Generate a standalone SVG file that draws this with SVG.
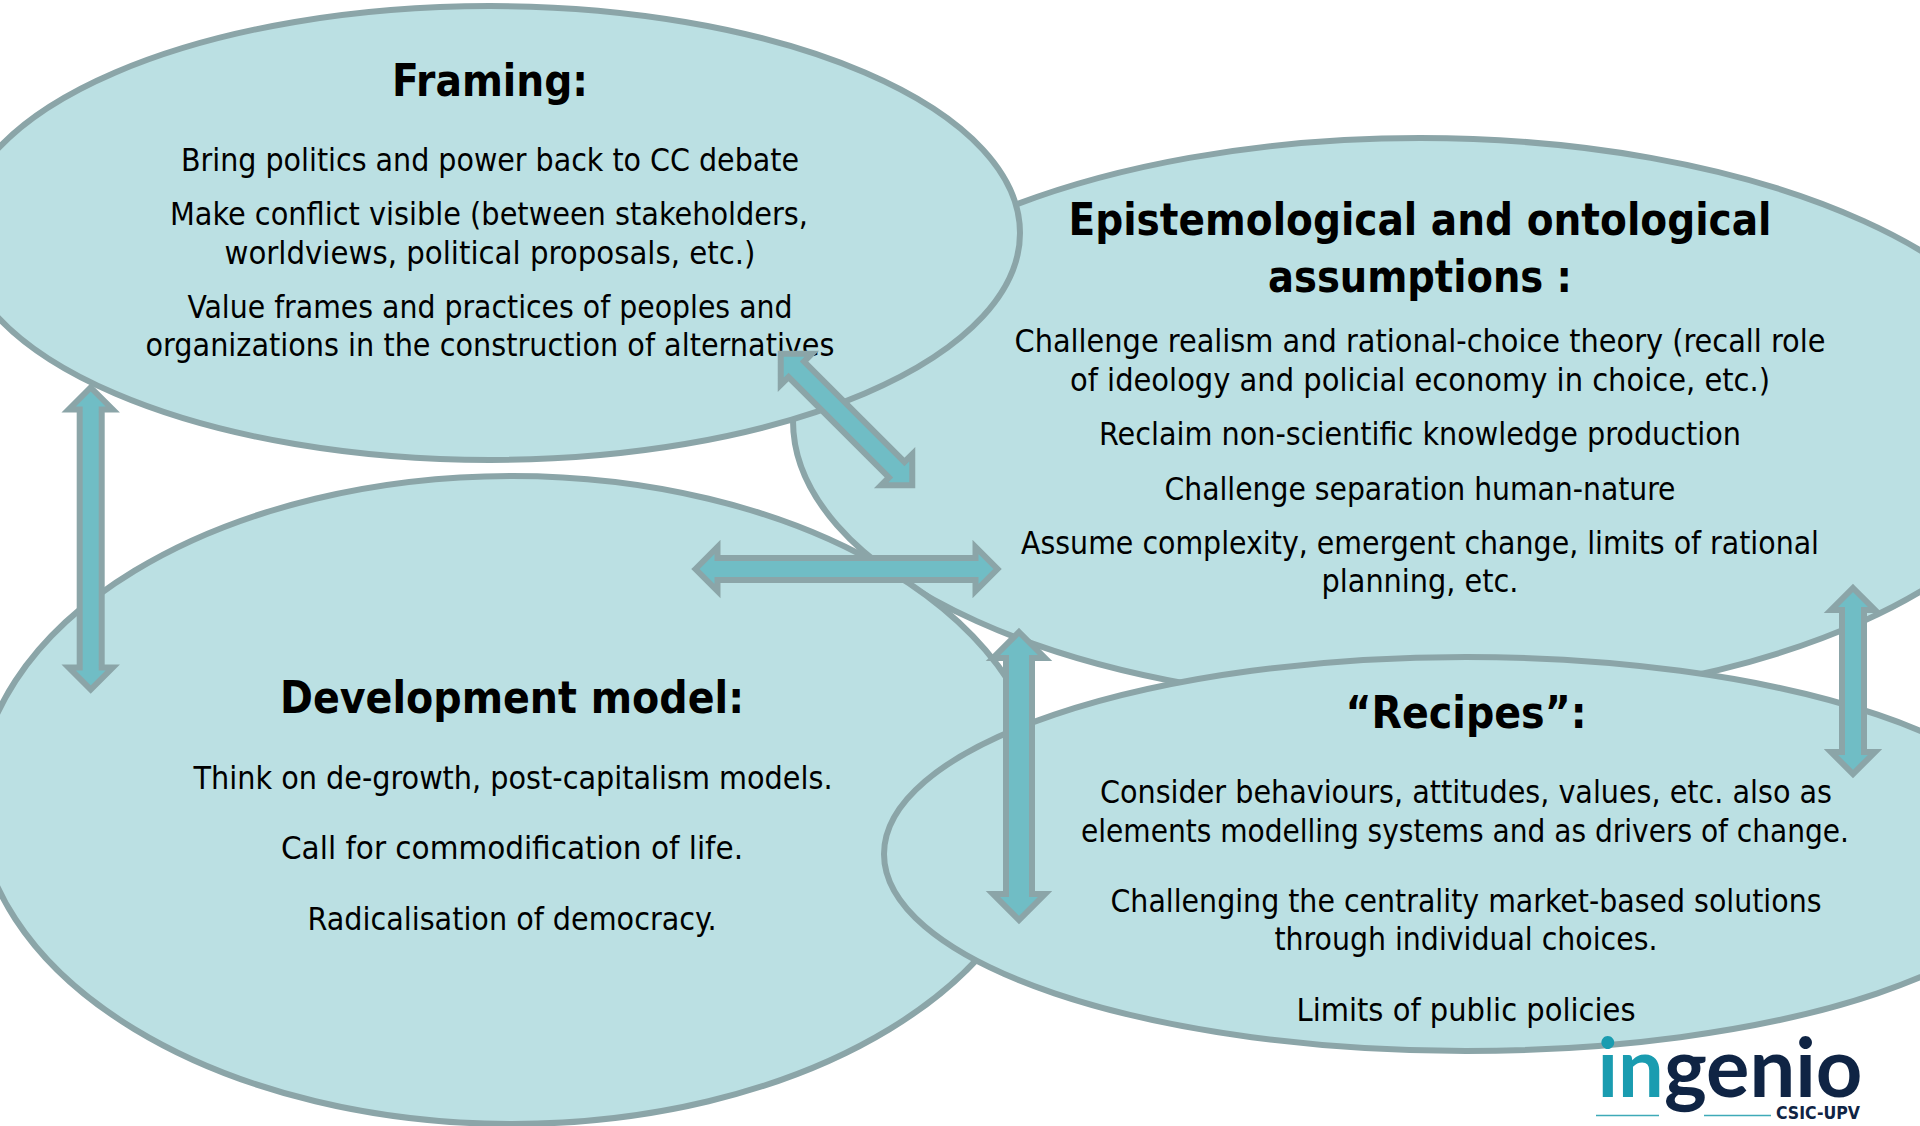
<svg xmlns="http://www.w3.org/2000/svg" width="1920" height="1126" viewBox="0 0 1920 1126">
<style>
.n{fill:#bbe0e3;stroke:#8ba5a8;stroke-width:6}
.a{fill:#70bdc5;stroke:#8ba5a8;stroke-width:6;stroke-miterlimit:10}
text{font-family:"DejaVu Sans Condensed","DejaVu Sans",sans-serif;text-anchor:middle;fill:#000}
.t{font-size:32px}
.h{font-size:44px;font-weight:bold}
</style>
<rect width="1920" height="1126" fill="#fff"/>
<g id="epistemological"><ellipse class="n" cx="1420" cy="421" rx="627" ry="283"/></g>
<g id="development"><ellipse class="n" cx="512" cy="800" rx="534" ry="324"/></g>
<g id="framing"><ellipse class="n" cx="490" cy="233" rx="530" ry="227"/>
<text class="h" x="490" y="96" textLength="196" lengthAdjust="spacingAndGlyphs">Framing:</text>
<text class="t" x="490" y="171" textLength="618" lengthAdjust="spacingAndGlyphs">Bring politics and power back to CC debate</text>
<text class="t" x="489" y="225" textLength="638" lengthAdjust="spacingAndGlyphs">Make conflict visible (between stakeholders,</text>
<text class="t" x="490" y="264" textLength="531" lengthAdjust="spacingAndGlyphs">worldviews, political proposals, etc.)</text>
<text class="t" x="490" y="318" textLength="605" lengthAdjust="spacingAndGlyphs">Value frames and practices of peoples and</text>
<text class="t" x="490" y="356" textLength="689" lengthAdjust="spacingAndGlyphs">organizations in the construction of alternatives</text></g>
<g id="epistemological-text">
<text class="h" x="1420" y="235" textLength="703" lengthAdjust="spacingAndGlyphs">Epistemological and ontological</text>
<text class="h" x="1420" y="292" textLength="304" lengthAdjust="spacingAndGlyphs">assumptions :</text>
<text class="t" x="1420" y="352" textLength="811" lengthAdjust="spacingAndGlyphs">Challenge realism and rational-choice theory (recall role</text>
<text class="t" x="1420" y="391" textLength="700" lengthAdjust="spacingAndGlyphs">of ideology and policial economy in choice, etc.)</text>
<text class="t" x="1420" y="445" textLength="642" lengthAdjust="spacingAndGlyphs">Reclaim non-scientific knowledge production</text>
<text class="t" x="1420" y="500" textLength="511" lengthAdjust="spacingAndGlyphs">Challenge separation human-nature</text>
<text class="t" x="1420" y="554" textLength="798" lengthAdjust="spacingAndGlyphs">Assume complexity, emergent change, limits of rational</text>
<text class="t" x="1420" y="592" textLength="197" lengthAdjust="spacingAndGlyphs">planning, etc.</text></g>
<g id="development-text">
<text class="h" x="512" y="713" textLength="464" lengthAdjust="spacingAndGlyphs">Development model:</text>
<text class="t" x="513" y="789" textLength="639" lengthAdjust="spacingAndGlyphs">Think on de-growth, post-capitalism models.</text>
<text class="t" x="512" y="859" textLength="462" lengthAdjust="spacingAndGlyphs">Call for commodification of life.</text>
<text class="t" x="512" y="930" textLength="409" lengthAdjust="spacingAndGlyphs">Radicalisation of democracy.</text></g>
<g id="recipes"><ellipse class="n" cx="1466" cy="854" rx="582" ry="197"/>
<text class="h" x="1466" y="728" textLength="241" lengthAdjust="spacingAndGlyphs">“Recipes”:</text>
<text class="t" x="1466" y="803" textLength="732" lengthAdjust="spacingAndGlyphs">Consider behaviours, attitudes, values, etc. also as</text>
<text class="t" x="1465" y="842" textLength="768" lengthAdjust="spacingAndGlyphs">elements modelling systems and as drivers of change.</text>
<text class="t" x="1466" y="912" textLength="711" lengthAdjust="spacingAndGlyphs">Challenging the centrality market-based solutions</text>
<text class="t" x="1466" y="950" textLength="383" lengthAdjust="spacingAndGlyphs">through individual choices.</text>
<text class="t" x="1466" y="1021" textLength="339" lengthAdjust="spacingAndGlyphs">Limits of public policies</text></g>
<g id="connectors">
<path class="a" transform="translate(90.7 538.5) rotate(90)" d="M-151 0L-129 -22V-11H129V-22L151 0L129 22V11H-129V22Z"/>
<path class="a" transform="translate(846.500 569)" d="M-151 0L-129 -22V-11H129V-22L151 0L129 22V11H-129V22Z"/>
<path class="a" transform="translate(846.500 419.500) rotate(45)" d="M-93 0L-71 -22V-11H71V-22L93 0L71 22V11H-71V22Z"/>
<path class="a" transform="translate(1853 681) rotate(90)" d="M-93 0L-71 -22V-11H71V-22L93 0L71 22V11H-71V22Z"/>
<path class="a" transform="translate(1019 776) rotate(90)" d="M-144 0L-118 -26V-13H118V-26L144 0L118 26V13H-118V26Z"/>
</g>
<g id="logo">
<text x="1730" y="1097" font-size="82" font-weight="bold" textLength="265" lengthAdjust="spacingAndGlyphs" style="font-family:'Lato',sans-serif"><tspan fill="#1a9cb0">in</tspan><tspan fill="#0f2444">genio</tspan></text>
<path d="M1596 1115.500H1659M1704 1115.500H1771" stroke="#3eaab8" stroke-width="1.500" fill="none"/>
<text x="1818" y="1119" font-size="18" font-weight="bold" textLength="84" lengthAdjust="spacingAndGlyphs" style="fill:#0f2444">CSIC-UPV</text>
</g>
</svg>
